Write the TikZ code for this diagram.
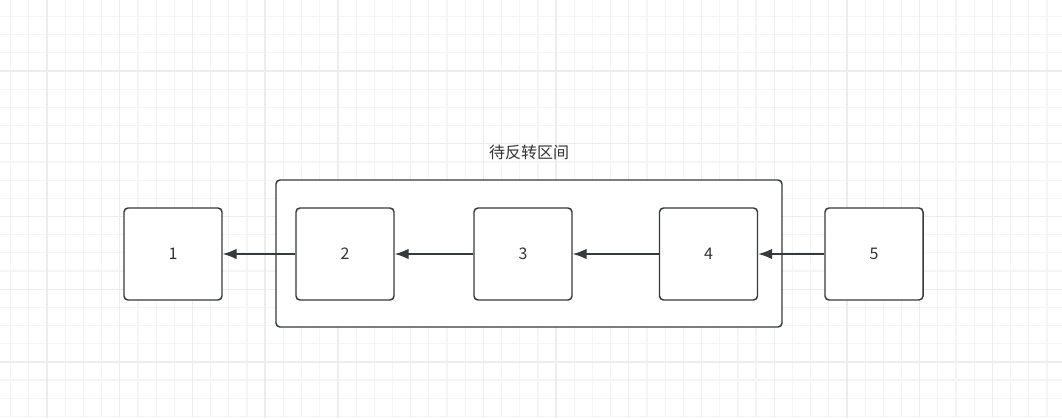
\documentclass[tikz,border=0pt]{standalone}
\usepackage{fontspec}
\usepackage{tikz}
\usetikzlibrary{positioning,arrows.meta}
\newfontfamily\cjk{Noto Sans CJK SC}
\definecolor{edge}{HTML}{36393D}
\definecolor{ink}{HTML}{333333}
\definecolor{gridmin}{HTML}{F5F5F5}
\definecolor{gridmaj}{HTML}{EDEDED}

\begin{document}
\begin{tikzpicture}[
  x=0.75pt, y=-0.75pt,
  every node/.style={font=\cjk\fontsize{12}{14}\selectfont, text=ink},
  item/.style={
    draw=edge, fill=white, rounded corners=3pt, line width=1.1pt,
    minimum width=73.5pt, minimum height=69pt, inner sep=0pt,
  },
  span/.style={draw=edge, rounded corners=3pt, line width=1.1pt},
  arrow/.style={-{Latex[length=10.5pt,width=8pt]}, line width=1.1pt, edge},
  gridminor/.style={gridmin, line width=0.9pt},
  gridmajor/.style={gridmaj, line width=1pt},
]
  % background and grid
  \fill[white] (0,0) rectangle (1062,418);
  \useasboundingbox (0,0) rectangle (1062,418);
  \foreach \i in {0,...,58} {
    \draw[gridminor] ({10.7+18.18*\i},0) -- ++(0,418);
  }
  \foreach \i in {0,...,23} {
    \draw[gridminor] (0,{-1.7+18.18*\i}) -- ++(1062,0);
  }
  \foreach \i in {0,...,14} {
    \draw[gridmajor] ({47+72.72*\i},0) -- ++(0,418);
  }
  \foreach \i in {0,...,6} {
    \draw[gridmajor] (0,{-1.7+72.72*\i}) -- ++(1062,0);
  }

  % reversed span
  \draw[span, fill=white] (276,180) rectangle (782,327);
  \node (spanlabel) at (529,152) {待反转区间};

  \node[item] (n1) at (173,254) {1};
  \node[item] (n2) at (345,254) {2};
  \node[item] (n3) at (523,254) {3};
  \node[item] (n4) at (708.5,254) {4};
  \node[item] (n5) at (874,254) {5};

  \draw[arrow] (n2.west) -- (n1.east);
  \draw[arrow] (n3.west) -- (n2.east);
  \draw[arrow] (n4.west) -- (n3.east);
  \draw[arrow] (n5.west) -- (n4.east);
\end{tikzpicture}
\end{document}
